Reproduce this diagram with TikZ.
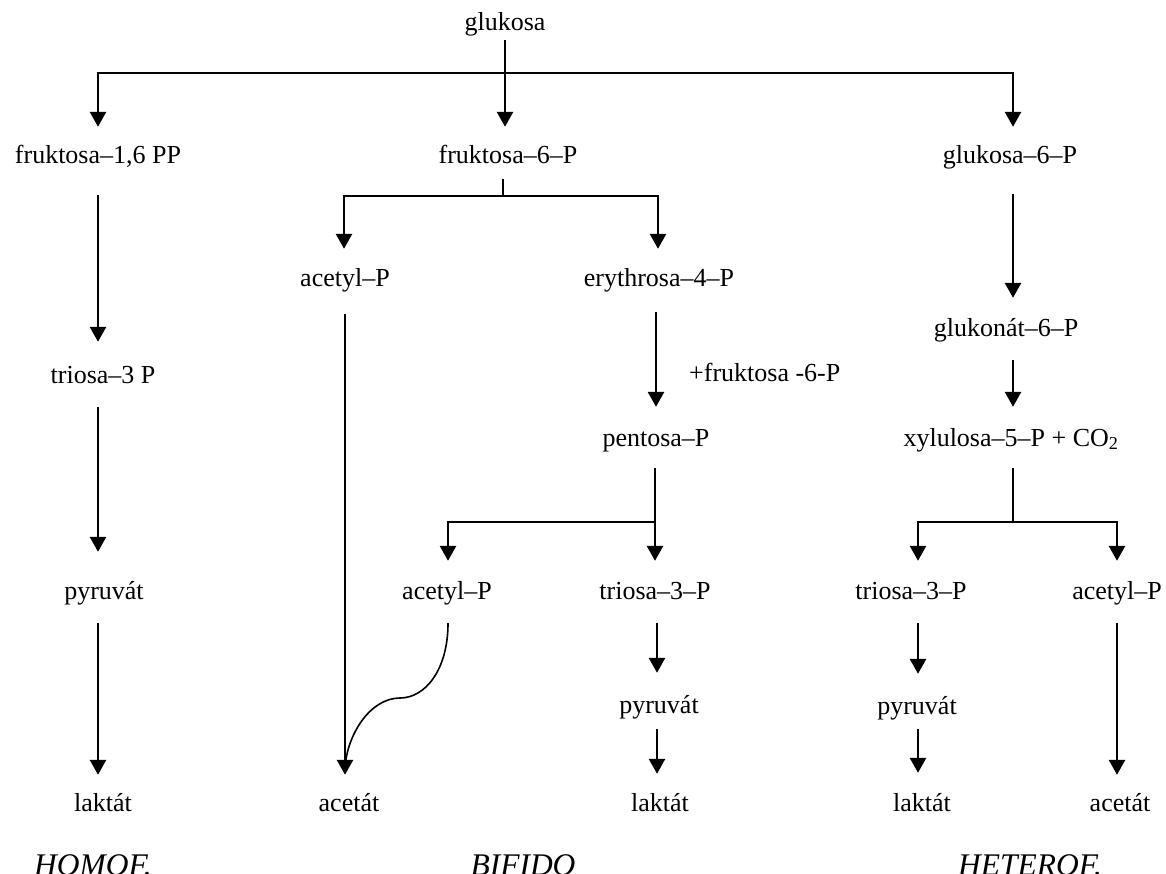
\documentclass[tikz,border=0pt]{standalone}
\usepackage{fontspec}
\setmainfont{Liberation Serif}
\usetikzlibrary{arrows.meta,calc}
\begin{document}
\begin{tikzpicture}[x=1pt,y=-1pt,
  lbl/.style={inner sep=0pt, font=\fontsize{26}{30}\selectfont, text height=21pt, text depth=3pt},
  ttl/.style={inner sep=0pt, anchor=base, font=\fontsize{31.5}{36}\selectfont\itshape},
  arr/.style={line width=2.8pt, -{Triangle[width=16pt,length=15pt]}},
  bar/.style={line width=2.2pt, line cap=rect},
  stub/.style={line width=2.8pt},
  thinc/.style={line width=1.6pt}]
\useasboundingbox (0,0) rectangle (1166,874);
\fill[white] (0,0) rectangle (1166,874);
\clip (0,0) rectangle (1166,874);

% nodes
\node[lbl] (g) at (505,22) {glukosa};
\node[lbl] (f16) at (98,155) {fruktosa–1,6 PP};
\node[lbl] (f6) at (508,155) {fruktosa–6–P};
\node[lbl] (g6) at (1010,155) {glukosa–6–P};
\node[lbl] (t3) at (103,374) {triosa–3 P};
\node[lbl] (pyr1) at (104,590) {pyruvát};
\node[lbl] (lak1) at (103,802) {laktát};
\node[lbl] (ac1) at (345,278) {acetyl–P};
\node[lbl] (ery) at (659,278) {erythrosa–4–P};
\node[lbl, anchor=west] (plus) at (689,372) {+fruktosa -6-P};
\node[lbl] (pent) at (656,437) {pentosa–P};
\node[lbl] (ac2) at (447,590) {acetyl–P};
\node[lbl] (t3b) at (655,590) {triosa–3–P};
\node[lbl] (pyr2) at (659,704) {pyruvát};
\node[lbl] (lak2) at (660,802) {laktát};
\node[lbl] (acet1) at (349,802) {acetát};
\node[lbl] (glk) at (1006,327) {glukonát–6–P};
\node[lbl] (xyl) at (1011,437) {xylulosa–5–P + CO\textsubscript{2}};
\node[lbl] (t3c) at (911,590) {triosa–3–P};
\node[lbl] (ac3) at (1117,590) {acetyl–P};
\node[lbl] (pyr3) at (917,705) {pyruvát};
\node[lbl] (lak3) at (922,802) {laktát};
\node[lbl] (acet3) at (1120,802) {acetát};
\node[ttl] (homo) at (93,875) {HOMOF.};
\node[ttl] (bifido) at (523,875) {BIFIDO};
\node[ttl] (hetero) at (1030,875) {HETEROF.};

% top split
\coordinate (hL) at (98,73);
\coordinate (hR) at (1013,73);
\draw[bar] (hL) -- (hR);
\draw[arr, shorten >=16pt] (hL) -- (hL |- f16.north);
\draw[arr, shorten >=16pt] (hR) -- (hR |- g6.north);
\draw[arr, shorten <=6pt, shorten >=16pt] (g.south) -- (g.south |- f6.north);

% HOMOF column
\coordinate (cL) at (98,0);
\draw[arr, shorten <=28pt, shorten >=20pt] (f16.south -| cL) -- (t3.north -| cL);
\draw[arr, shorten <=21pt, shorten >=26pt] (t3.south -| cL) -- (pyr1.north -| cL);
\draw[arr, shorten <=21pt, shorten >=15pt] (pyr1.south -| cL) -- (lak1.north -| cL);

% BIFIDO
\coordinate (bT) at (503,196);
\coordinate (bL) at (344,196);
\coordinate (bR) at (658,196);
\draw[stub, shorten <=12pt] (f6.south -| bT) -- (bT);
\draw[bar] (bL) -- (bR);
\draw[arr, shorten >=17pt] (bL) -- (bL |- ac1.north);
\draw[arr, shorten >=17pt] (bR) -- (bR |- ery.north);
\draw[arr, shorten <=24pt, shorten >=15pt] (ac1.south) -- (ac1.south |- acet1.north);
\coordinate (cE) at (656,0);
\draw[arr, shorten <=22pt, shorten >=18pt] (ery.south -| cE) -- (pent.north -| cE);
\coordinate (pJ) at (655,522);
\coordinate (pL) at (448,522);
\draw[arr, shorten <=19pt, shorten >=17pt] (pent.south -| pJ) -- (t3b.north -| pJ);
\draw[bar] (pJ) -- (pL);
\draw[arr, shorten >=17pt] (pL) -- (pL |- ac2.north);
\coordinate (cP) at (657,0);
\draw[arr, shorten <=21pt, shorten >=19pt] (t3b.south -| cP) -- (pyr2.north -| cP);
\draw[arr, shorten <=13pt, shorten >=16pt] (pyr2.south -| cP) -- (lak2.north -| cP);
\coordinate (cs) at ($(ac2.south -| pL)+(0,21)$);
\coordinate (ce) at ($(acet1.north -| ac1.south)+(0,-22)$);
\coordinate (cm) at (400,698);
\draw[thinc] (cs) .. controls ($(cs)+(0,47)$) and ($(cm)+(25,0)$) .. (cm)
  .. controls ($(cm)+(-30,0)$) and ($(ce)+(2,-33)$) .. (ce);

% HETEROF
\coordinate (cH) at (1013,0);
\draw[arr, shorten <=27pt, shorten >=17pt] (g6.south -| cH) -- (glk.north -| cH);
\draw[arr, shorten <=21pt, shorten >=18pt] (glk.south -| cH) -- (xyl.north -| cH);
\coordinate (hJ) at (1013,522);
\coordinate (hjL) at (918,522);
\coordinate (hjR) at (1117,522);
\draw[stub, shorten <=19pt] (xyl.south -| hJ) -- (hJ);
\draw[bar] (hjL) -- (hjR);
\draw[arr, shorten >=17pt] (hjL) -- (hjL |- t3c.north);
\draw[arr, shorten >=17pt] (hjR) -- (hjR |- ac3.north);
\draw[arr, shorten <=21pt, shorten >=19pt] (t3c.south -| hjL) -- (pyr3.north -| hjL);
\draw[arr, shorten <=12pt, shorten >=17pt] (pyr3.south -| hjL) -- (lak3.north -| hjL);
\draw[arr, shorten <=21pt, shorten >=15pt] (ac3.south -| hjR) -- (acet3.north -| hjR);
\end{tikzpicture}
\end{document}
